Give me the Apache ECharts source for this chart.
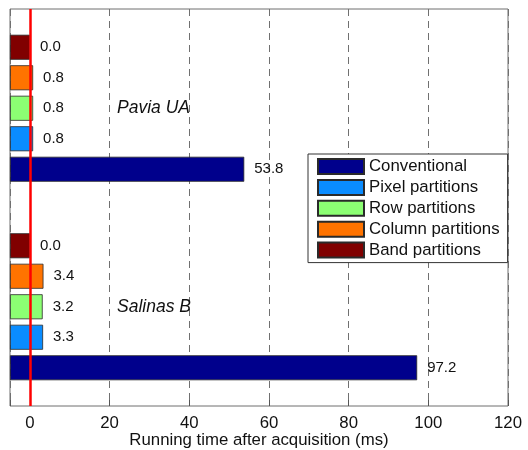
<!DOCTYPE html>
<html><head><meta charset="utf-8">
<script src="https://cdn.jsdelivr.net/npm/echarts@6/dist/echarts.min.js"></script>
<style>html,body{margin:0;padding:0;background:#fff}#c{width:528px;height:450px}</style>
</head><body><div id="c"></div>
<script>
// Data
const datasets = ['Salinas B', 'Pavia UA'];          // bottom -> top
const conventional = [97.2, 53.8];
const pixelPart = [3.3, 0.8];
const rowPart = [3.2, 0.8];
const columnPart = [3.4, 0.8];
const bandPart = [0.0, 0.0];
const xTickLabels = ['0', '20', '40', '60', '80', '100', '120'];
const legendOrder = ['Conventional', 'Pixel partitions', 'Row partitions', 'Column partitions', 'Band partitions'];

const FONT = 'Liberation Sans, Arial, Helvetica, sans-serif';
const colors = {
  'Conventional': '#00008c',
  'Pixel partitions': '#0a8cff',
  'Row partitions': '#8cff73',
  'Column partitions': '#ff7300',
  'Band partitions': '#800000'
};
const seriesData = {
  'Conventional': conventional,
  'Pixel partitions': pixelPart,
  'Row partitions': rowPart,
  'Column partitions': columnPart,
  'Band partitions': bandPart
};
// placement order (top -> bottom within each group)
const placeOrder = ['Band partitions', 'Column partitions', 'Row partitions', 'Pixel partitions', 'Conventional'];

const series = placeOrder.map((name, i) => ({
  name: name,
  type: 'bar',
  data: seriesData[name],
  barWidth: 25,
  barGap: '22%',
  itemStyle: { color: colors[name], borderColor: '#2a2a2a', borderWidth: 0.8 },
  label: {
    show: true, position: 'right', distance: 10,
    fontFamily: FONT, fontSize: 15, color: '#111',
    formatter: p => p.value.toFixed(1)
  },
  z: 2,
  markLine: i === placeOrder.length - 1 ? {
    silent: true, symbol: ['none', 'none'],
    label: { show: false },
    lineStyle: { color: '#ff0000', width: 2.5, type: 'solid' },
    data: [{ xAxis: 0 }],
    animation: false
  } : undefined
}));

const chart = echarts.init(document.getElementById('c'));
chart.setOption({
  animation: false,
  backgroundColor: '#fff',
  grid: { left: 10, right: 20, top: 9, bottom: 44, containLabel: false, outerBoundsMode: 'none',
          show: true, borderColor: '#6e6e6e', borderWidth: 1, backgroundColor: 'transparent' },
  legend: {
    data: legendOrder,
    orient: 'vertical',
    left: 308, top: 154,
    icon: 'rect',
    itemWidth: 46, itemHeight: 15, itemGap: 3.9,
    padding: [4, 8, 4, 9],
    borderColor: '#333', borderWidth: 1, backgroundColor: '#fff',
    textStyle: { fontFamily: FONT, fontSize: 16.8, color: '#111' },
    selectedMode: false
  },
  xAxis: {
    type: 'value', min: -5, max: 120, splitNumber: 6,
    startValue: -5,
    name: 'Running time after acquisition (ms)',
    nameLocation: 'middle', nameGap: 26, nameMoveOverlap: false,
    nameTextStyle: { fontFamily: FONT, fontSize: 16.8, color: '#111' },
    axisLine: { show: false },
    axisTick: { show: true, inside: true, length: 6, lineStyle: { color: '#555' } },
    axisLabel: {
      fontFamily: FONT, fontSize: 16.8, color: '#111', margin: 9,
      formatter: v => xTickLabels.indexOf(String(v)) >= 0 ? String(v) : ''
    },
    splitLine: { show: true, lineStyle: { color: '#707070', width: 1, type: [7, 5] } }
  },
  yAxis: {
    type: 'category', data: datasets,
    axisLine: { show: false }, axisTick: { show: false },
    axisLabel: { inside: true, margin: 107, width: 200, overflow: 'none',
                 fontFamily: FONT, fontSize: 17.5, fontStyle: 'italic', color: '#111' },
    splitLine: { show: false }
  },
  series: series
});
</script></body></html>
